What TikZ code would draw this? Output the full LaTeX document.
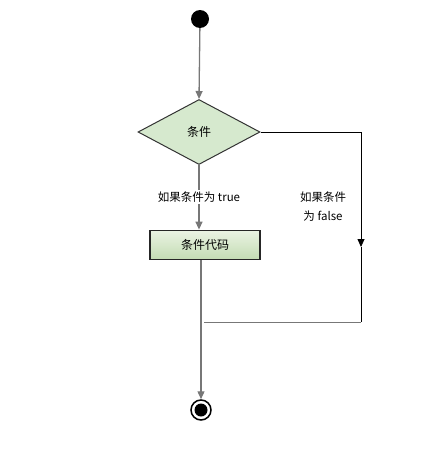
\documentclass[tikz,border=0pt]{standalone}
\usepackage{fontspec}
\setmainfont{Liberation Sans}
\newfontfamily\cjk{Noto Sans CJK SC}
\usetikzlibrary{shapes.geometric,arrows.meta}
\definecolor{flowgray}{HTML}{777777}
\definecolor{diafill}{HTML}{D6E9CE}
\definecolor{boxtop}{HTML}{EAF3E3}
\definecolor{boxbot}{HTML}{C3DCB3}
\tikzset{
  flow/.style={draw=flowgray,line width=1.3pt},
  side/.style={draw=black,line width=0.8pt},
  tip/.style={-{Triangle[width=7pt,length=8pt]}},
  dia/.style={diamond,draw=black!80,line width=1pt,fill=diafill,minimum width=122pt,minimum height=65pt,inner sep=0pt,font=\cjk\fontsize{12}{14}\selectfont},
  codebox/.style={rectangle,draw=black!85,line width=1.8pt,top color=boxtop,bottom color=boxbot,minimum width=110pt,minimum height=29pt,inner sep=0pt,font=\cjk\fontsize{12}{14}\selectfont},
  lbl/.style={fill=white,inner sep=1.5pt,font=\cjk\fontsize{11.5}{19}\selectfont,align=center}
}
\begin{document}
\begin{tikzpicture}[x=1pt,y=-1pt]
\useasboundingbox (0,0) rectangle (430,455);
\node[circle,fill=black,minimum size=18pt,inner sep=0pt] (start) at (200,19) {};
\node[dia] (cond) at (199,132) {条件};
\node[codebox] (code) at (205,245) {条件代码};
\node[circle,draw=black,line width=1.5pt,minimum size=20pt,inner sep=0pt] (end) at (201,410) {};
\node[circle,fill=black,minimum size=13pt,inner sep=0pt] (endin) at (end.center) {};
\coordinate (rtop) at (361,132);
\coordinate (rarrow) at (361,247);
\coordinate (rbot) at (361,322);
\coordinate (mjoin) at (204,322);
\coordinate (codetop) at (cond.south |- code.north);
\coordinate (codebot) at (end.north |- code.south);
\draw[flow,tip] (start) -- (cond.north);
\draw[flow,tip] (cond.south) -- (codetop);
\draw[flow,tip] (codebot) -- (end.north);
\draw[side,tip] (cond.east) -- (rtop) -- (rarrow);
\draw[side] (rarrow) -- (rbot);
\draw[flow,line width=1pt] (rbot) -- (mjoin);
\node[lbl] (ltrue) at (199,197) {如果条件为 true};
\node[lbl] (lfalse) at (323,207) {如果条件\\为 false};
\end{tikzpicture}
\end{document}
